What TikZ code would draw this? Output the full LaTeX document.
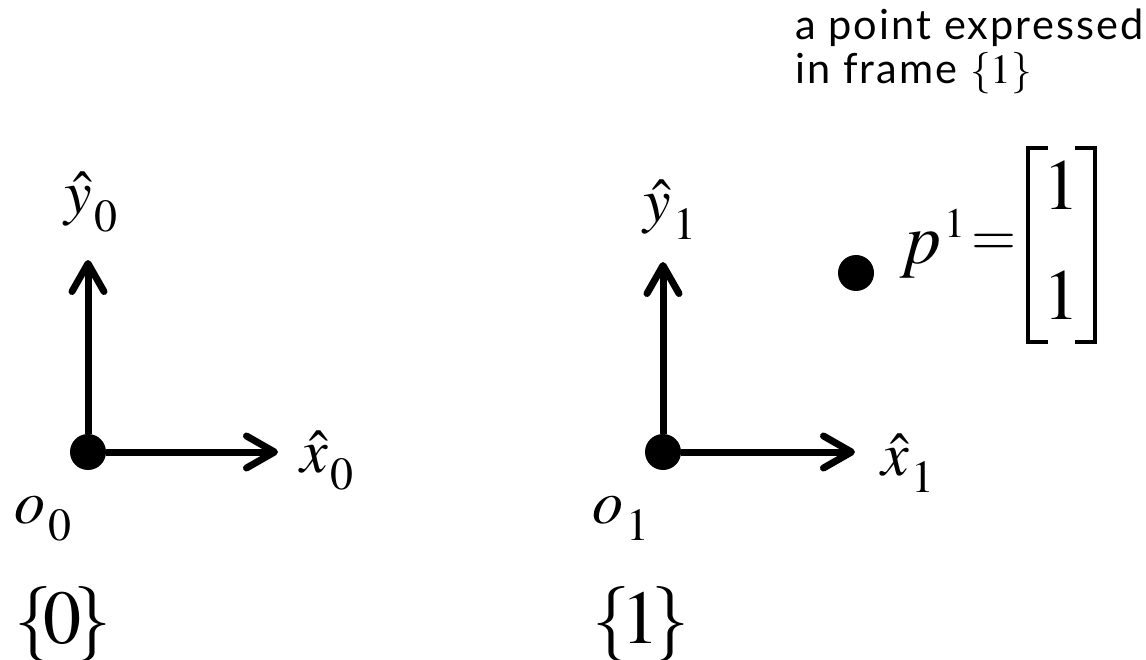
\documentclass[tikz,border=0pt]{standalone}
\usepackage{mathptmx}
\usepackage[no-math]{fontspec}
\newfontfamily\gillfont[LetterSpace=5]{Lato}
\usetikzlibrary{arrows.meta}
\newcommand\lowsub[1]{_{\kern3pt\lower8pt\hbox{$\scriptstyle #1$}}}
\begin{document}
\begin{tikzpicture}[x=1pt,y=-1pt,
  axis/.style={line width=7pt,-{Straight Barb[length=28pt,width=32pt,line cap=round,line join=round]}},
  dot/.style={circle,fill=black,minimum size=36pt,inner sep=0pt},
  lbl/.style={anchor=base west,inner sep=0pt,font=\fontsize{62}{70}\selectfont},
  big/.style={anchor=base west,inner sep=0pt,font=\fontsize{76}{84}\selectfont},
  eq/.style={inner sep=0pt,font=\fontsize{72}{80}\selectfont},
  txt/.style={anchor=base west,inner sep=0pt,font=\gillfont\fontsize{41.5}{46}\selectfont},
  brk/.style={line width=3.5pt,line cap=butt,line join=miter}]
\useasboundingbox (0,0) rectangle (1146,660);
% frame 0
\node[dot] (o0) at (88,452) {};
\coordinate (x0tip) at (278,452);
\coordinate (y0tip) at (88,260);
\draw[axis] (o0) -- (x0tip);
\draw[axis] (o0) -- (y0tip);
\node[lbl] (ly0) at (64,214) {$\hat{y}\lowsub{0}$};
\node[lbl] (lx0) at (300,472) {$\hat{x}\lowsub{0}$};
\node[lbl] (lo0) at (14,523) {$o\lowsub{0}$};
\node[big] (f0) at (14,643) {$\{\!0\!\}$};
% frame 1
\node[dot] (o1) at (663,452) {};
\coordinate (x1tip) at (855,452);
\coordinate (y1tip) at (663,262);
\draw[axis] (o1) -- (x1tip);
\draw[axis] (o1) -- (y1tip);
\node[lbl] (ly1) at (643,222) {$\hat{y}\lowsub{1}$};
\node[lbl] (lx1) at (881,475) {$\hat{x}\lowsub{1}$};
\node[lbl] (lo1) at (592,523) {$o\lowsub{1}$};
\node[big] (f1) at (592,643) {$\{\!1\!\}$};
% point
\node[dot] (pt) at (856,273) {};
\node[eq,anchor=base west] (p1) at (900,264) {$p\kern3pt\raise26pt\hbox{\fontsize{42}{42}\selectfont$1$}$};
\node[inner sep=0pt,font=\fontsize{58}{64}\selectfont] (equal) at (994,245) {$=$};
\node[eq] (one1) at (1061,185) {$1$};
\node[eq] (one2) at (1061,295) {$1$};
\draw[brk] (1048,148) -- (1028,148) -- (1028,342) -- (1048,342);
\draw[brk] (1075,148) -- (1095,148) -- (1095,342) -- (1075,342);
% caption
\node[txt] (t1) at (795,40) {a point expressed};
\node[txt] (t2) at (795,84) {in frame $\{1\}$};
\end{tikzpicture}
\end{document}
